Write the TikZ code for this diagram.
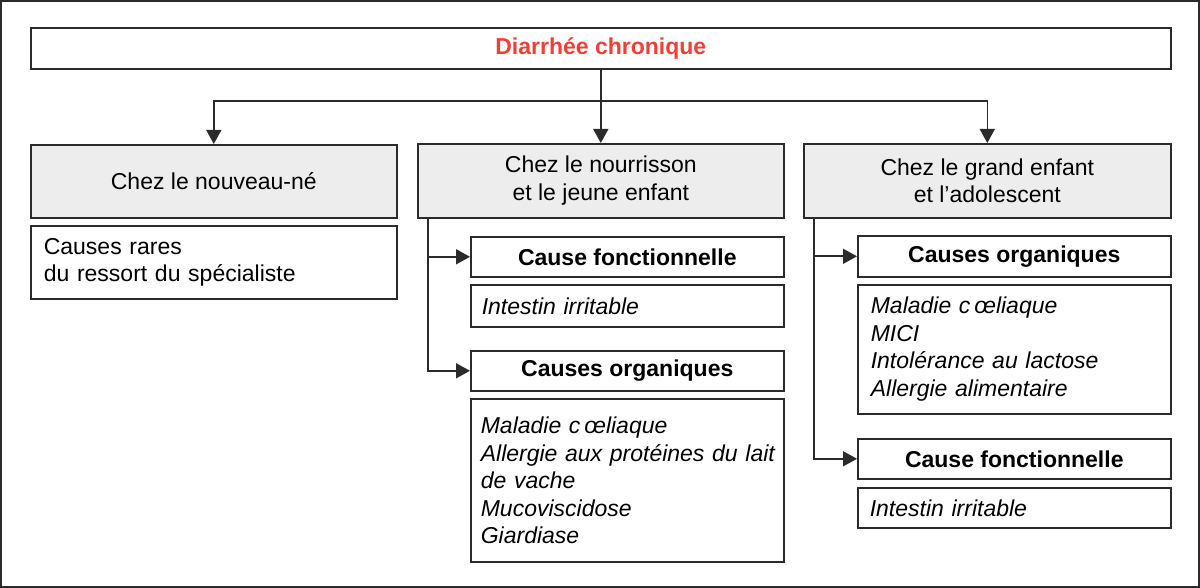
\documentclass[tikz,border=0pt]{standalone}
\usepackage{fontspec}
\setmainfont{Liberation Sans}
\usetikzlibrary{arrows.meta,calc}
\definecolor{redtitle}{HTML}{EE4035}
\definecolor{lineg}{HTML}{2B2B2B}
\definecolor{hdrfill}{HTML}{EDEDED}
\begin{document}
\begin{tikzpicture}[x=1pt,y=-1pt,
  box/.style={draw=lineg, line width=1.6pt, inner sep=0pt, anchor=north west,
    font=\fontsize{23}{27.5}\selectfont, text=black},
  hdr/.style={box, fill=hdrfill, align=center},
  bld/.style={box, font=\fontsize{23}{27.5}\selectfont\bfseries, align=center},
  lst/.style={box, align=left, font=\fontsize{23}{27.5}\selectfont\itshape},
  txt/.style={box, align=left},
  arr/.style={draw=lineg, line width=1.6pt, -{Triangle[length=14pt,width=15pt]}}]
\useasboundingbox (0,0) rectangle (1200,588);
\draw[draw=lineg, line width=2pt] (1,1) rectangle (1199,587);

\node[box, minimum width=1140pt, minimum height=41pt, text=redtitle,
  font=\fontsize{23}{27.5}\selectfont\bfseries] (title) at (30,27) {Diarrhée chronique};

\node[hdr, minimum width=366pt, minimum height=73pt] (h1) at (30,144) {Chez le nouveau-né};
\node[txt, minimum width=366pt, minimum height=73pt, inner xsep=13pt, text width=340pt] (c1) at (30,225)
  {Causes rares\\du ressort du spécialiste};

\node[hdr, minimum width=366pt, minimum height=74pt] (h2) at (417,143) {Chez le nourrisson\\et le jeune enfant};
\node[bld, minimum width=313pt, minimum height=40pt] (cf2) at (470,236) {Cause fonctionnelle};
\node[lst, minimum width=313pt, minimum height=42pt, inner xsep=11pt, text width=291pt] (ii2) at (470,284) {Intestin irritable};
\node[bld, minimum width=313pt, minimum height=40pt] (co2) at (470,350) {Causes organiques};
\node[lst, minimum width=313pt, minimum height=163pt, inner xsep=10pt, text width=293pt] (l2) at (470,398)
  {Maladie c\,œliaque\\\mbox{Allergie aux protéines du lait}\\de vache\\Mucoviscidose\\Giardiase};

\node[hdr, minimum width=367pt, minimum height=74pt] (h3) at (803,143) {Chez le grand enfant\\et l’adolescent};
\node[bld, minimum width=313pt, minimum height=41pt] (co3) at (857,235) {Causes organiques};
\node[lst, minimum width=313pt, minimum height=129pt, inner xsep=13pt, text width=287pt] (l3) at (857,284)
  {Maladie c\,œliaque\\MICI\\Intolérance au lactose\\Allergie alimentaire};
\node[bld, minimum width=313pt, minimum height=40pt] (cf3) at (857,438) {Cause fonctionnelle};
\node[lst, minimum width=313pt, minimum height=40pt, inner xsep=12pt, text width=289pt] (ii3) at (857,487) {Intestin irritable};

\coordinate (j) at (title.south |- 0,101);
\draw[arr] (title.south) -- (h2.north);
\draw[arr] (j) -| (h1.north);
\draw[arr] (j) -| (h3.north);

\coordinate (b2) at ([xshift=11pt]h2.south west);
\draw[arr] (b2) |- (cf2.west);
\draw[arr] (b2) |- (co2.west);

\coordinate (b3) at ([xshift=11pt]h3.south west);
\draw[arr] (b3) |- (co3.west);
\draw[arr] (b3) |- (cf3.west);
\end{tikzpicture}
\end{document}
